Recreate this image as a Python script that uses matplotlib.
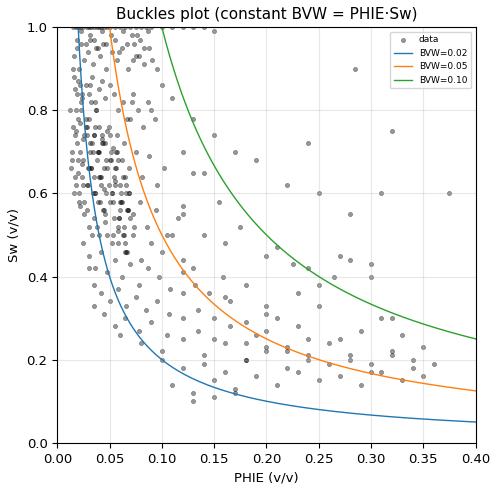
import numpy as np
import matplotlib
matplotlib.use("Agg")
import matplotlib.pyplot as plt

phie = [0.015,0.018,0.02,0.022,0.025,0.028,0.03,0.032,0.035,0.038,0.04,0.042,0.045,0.048,0.05,0.055,0.06,0.065,0.07,0.075,0.08,0.085,0.09,0.1,0.11,0.12,0.13,0.14,0.15,
0.016,0.019,0.021,0.023,0.026,0.029,0.031,0.034,0.037,0.041,0.044,0.047,0.052,0.057,0.062,0.068,0.073,0.078,0.083,0.088,0.095,
0.017,0.02,0.024,0.027,0.03,0.033,0.036,0.04,0.043,0.046,0.05,0.054,0.058,0.063,0.067,0.072,0.077,0.082,0.087,0.093,
0.018,0.022,0.025,0.028,0.031,0.035,0.039,0.043,0.048,0.053,0.058,0.064,0.069,0.075,0.081,0.088,0.095,0.102,
0.02,0.024,0.028,0.032,0.036,0.04,0.045,0.05,0.055,0.06,0.066,0.072,0.079,0.086,0.094,0.105,0.115,
0.022,0.026,0.03,0.035,0.04,0.046,0.052,0.058,0.065,0.072,0.08,0.09,0.1,0.11,0.12,0.13,
0.025,0.03,0.036,0.042,0.048,0.055,0.062,0.07,0.078,0.087,0.097,0.108,0.12,0.132,0.145,0.158,
0.03,0.035,0.042,0.05,0.058,0.066,0.075,0.085,0.095,0.107,0.12,0.135,0.15,0.165,0.18,
0.035,0.045,0.055,0.065,0.078,0.09,0.105,0.12,0.135,0.15,0.165,0.18,0.2,0.22,0.24,
0.06,0.08,0.1,0.12,0.14,0.16,0.18,0.2,0.22,0.24,0.26,0.28,0.3,0.32,0.34,
0.1,0.12,0.14,0.16,0.18,0.2,0.22,0.24,0.26,0.28,0.3,0.32,0.34,0.36,
0.11,0.13,0.15,0.17,0.19,0.21,0.23,0.25,0.27,0.29,0.31,0.33,0.35,
0.13,0.15,0.17,0.19,0.21,0.23,0.25,0.27,0.29,0.31,0.33,0.35,0.375,
0.12,0.14,0.16,0.2,0.24,0.28,0.3,0.32,0.12,0.13,0.155,0.175,0.21,0.225,0.25,0.265,0.285,
0.09,0.1,0.11,0.13,0.15,0.17,0.19,0.22,0.25,0.28,0.31,
0.12,0.14,0.16,0.18,0.2,0.23,0.27,0.3,0.32,0.2,0.24,
0.012,0.014,0.016,0.018,0.02,0.022,0.024,0.026,0.028,0.03,0.032,0.034,0.036,0.038,0.04,0.042,0.044,0.046,0.048,0.05,0.052,0.054,0.056,0.058,0.06,0.062,0.064,0.066,0.068,0.07,
0.013,0.015,0.017,0.019,0.021,0.023,0.025,0.027,0.029,0.031,0.033,0.035,0.037,0.039,0.041,0.043,0.045,0.047,0.049,0.051,0.053,0.055,0.057,0.059,0.061,0.063,0.065,0.067,0.069,0.071,
0.014,0.016,0.018,0.02,0.022,0.024,0.026,0.028,0.03,0.032,0.034,0.036,0.038,0.04,0.042,0.044,0.046,0.048,0.05,0.052,0.054,0.056,0.058,0.06,0.062,0.064,0.066,0.068,0.07,0.072,
0.015,0.017,0.019,0.021,0.023,0.025,0.027,0.029,0.031,0.033,0.035,0.037,0.039,0.041,0.043,0.045,0.047,0.049,0.051,0.053,0.055,0.057,0.059,0.061,0.063,0.065,0.067,0.069,0.073,0.076,
0.019,0.023,0.027,0.031,0.035,0.039,0.043,0.047,0.051,0.055,0.059,0.063,0.067,0.071,0.075,0.079,0.083,0.087,0.091,0.095]
sw = [1.0,1.0,1.0,1.0,1.0,1.0,1.0,1.0,1.0,1.0,1.0,1.0,1.0,1.0,1.0,1.0,1.0,1.0,1.0,1.0,1.0,1.0,1.0,1.0,1.0,1.0,1.0,1.0,0.99,
0.93,0.95,0.9,0.96,0.92,0.94,0.97,0.91,0.95,0.93,0.96,0.9,0.94,0.92,0.95,0.9,0.96,0.93,0.91,0.95,0.9,
0.85,0.87,0.83,0.86,0.84,0.88,0.82,0.85,0.87,0.83,0.86,0.84,0.8,0.82,0.78,0.84,0.8,0.76,0.82,0.78,
0.75,0.77,0.73,0.76,0.72,0.74,0.7,0.73,0.75,0.71,0.68,0.72,0.66,0.7,0.64,0.69,0.62,0.66,
0.65,0.67,0.62,0.66,0.6,0.64,0.61,0.58,0.63,0.56,0.6,0.55,0.58,0.52,0.56,0.5,0.54,
0.57,0.55,0.52,0.54,0.5,0.53,0.48,0.51,0.46,0.5,0.44,0.48,0.46,0.5,0.44,0.42,
0.48,0.45,0.42,0.46,0.41,0.44,0.4,0.43,0.38,0.42,0.4,0.37,0.41,0.38,0.36,0.4,
0.42,0.38,0.36,0.34,0.37,0.33,0.35,0.32,0.34,0.31,0.36,0.32,0.3,0.34,0.29,
0.33,0.31,0.28,0.3,0.27,0.29,0.26,0.3,0.27,0.25,0.28,0.24,0.27,0.23,0.25,
0.26,0.24,0.22,0.25,0.21,0.24,0.2,0.23,0.22,0.2,0.24,0.21,0.19,0.22,0.2,
0.2,0.18,0.19,0.17,0.2,0.22,0.18,0.21,0.19,0.2,0.17,0.21,0.18,0.19,
0.14,0.12,0.15,0.13,0.16,0.14,0.17,0.15,0.16,0.14,0.17,0.15,0.16,
0.1,0.11,0.12,0.26,0.3,0.28,0.33,0.25,0.27,0.3,0.26,0.23,
0.6,0.55,0.5,0.48,0.45,0.42,0.44,0.4,0.75,0.7,0.65,0.58,0.52,0.47,0.43,0.38,0.4,
0.9,0.8,0.86,0.83,0.78,0.74,0.7,0.68,0.62,0.6,0.55,
0.6,0.57,0.65,0.35,0.38,0.33,0.36,0.45,0.43,0.3,0.31,
0.72,0.8,0.68,0.88,0.62,0.78,0.7,0.84,0.58,0.74,0.66,0.82,0.6,0.76,0.52,0.7,0.64,0.56,0.72,0.5,0.68,0.6,0.54,0.66,0.48,0.62,0.58,0.52,0.46,0.56,
0.78,0.66,0.9,0.74,0.84,0.6,0.8,0.68,0.76,0.62,0.86,0.72,0.64,0.8,0.7,0.58,0.74,0.66,0.6,0.76,0.68,0.5,0.62,0.7,0.54,0.58,0.64,0.48,0.56,0.6,
0.82,0.7,0.6,0.8,0.68,0.86,0.64,0.74,0.56,0.78,0.66,0.7,0.6,0.68,0.76,0.62,0.72,0.55,0.66,0.74,0.6,0.64,0.7,0.52,0.58,0.68,0.5,0.62,0.56,0.54,
0.92,0.76,0.64,0.72,0.58,0.82,0.62,0.78,0.66,0.7,0.5,0.74,0.8,0.58,0.64,0.72,0.56,0.68,0.62,0.7,0.58,0.66,0.74,0.54,0.6,0.5,0.64,0.46,0.6,0.52,
0.98,0.97,0.99,0.96,0.98,0.97,0.95,0.99,0.96,0.98,0.97,0.94,0.99,0.96,0.98,0.93,0.97,0.95,0.99,0.92]
n = min(len(phie), len(sw))
phie, sw = phie[:n], sw[:n]
bvw_levels = [0.02, 0.05, 0.10]
colors = ["#1f77b4", "#ff7f0e", "#2ca02c"]

fig, ax = plt.subplots(figsize=(4.98, 4.92), dpi=100)
ax.scatter(phie, sw, s=9, c="black", alpha=0.4, label="data", linewidths=0.5, edgecolors="black")
x = np.linspace(0.001, 0.4, 800)
for b, c in zip(bvw_levels, colors):
    ax.plot(x, b / x, color=c, lw=1, label=f"BVW={b:.2f}")
ax.set_xlim(0, 0.4)
ax.set_ylim(0, 1)
ax.set_xlabel("PHIE (v/v)", fontsize=9.5)
ax.set_ylabel("Sw (v/v)", fontsize=9.5)
ax.tick_params(labelsize=9.5)
ax.set_title("Buckles plot (constant BVW = PHIE·Sw)", fontsize=11)
ax.grid(True, alpha=0.3)
ax.legend(loc="upper right", fontsize=6.5)
fig.subplots_adjust(left=0.115, right=0.955, bottom=0.1, top=0.945)
fig.savefig("out.png", dpi=100)
